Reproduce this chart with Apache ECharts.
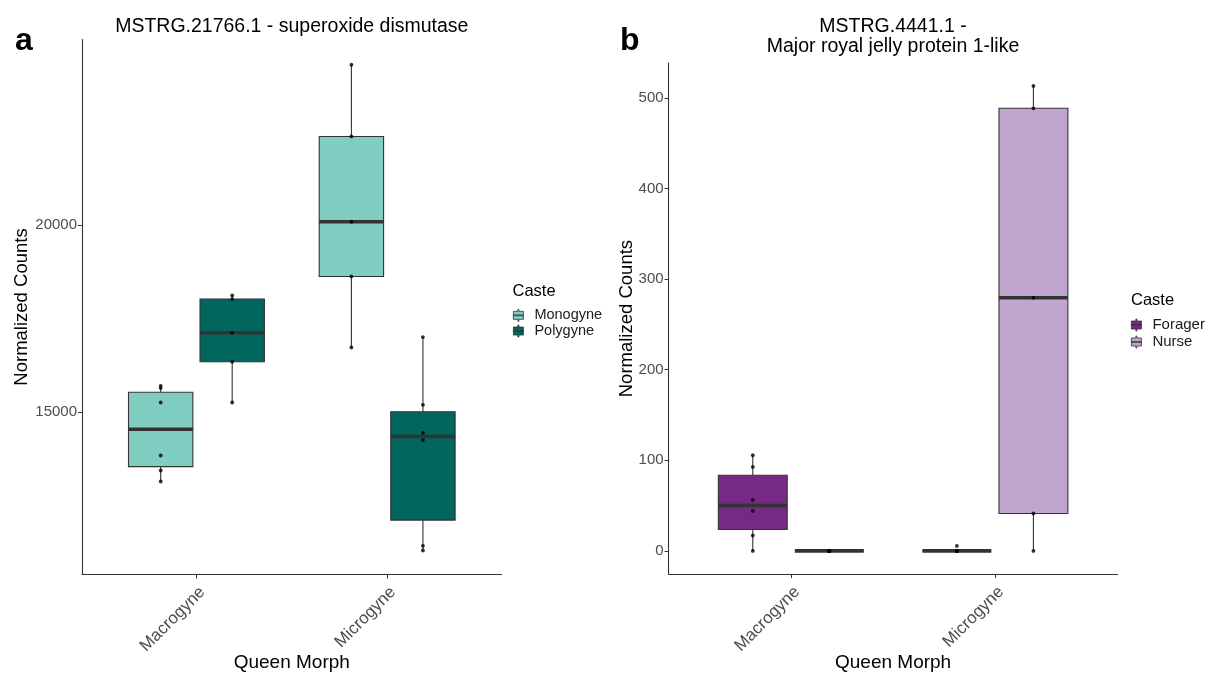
<!DOCTYPE html>
<html><head><meta charset="utf-8">
<script src="https://cdn.jsdelivr.net/npm/echarts@6/dist/echarts.min.js"></script>
<style>html,body{margin:0;padding:0;background:#fff}#c{width:1210px;height:675px}</style>
</head><body><div id="c"></div>
<script>
// ---------------- data ----------------
const categories = ['Macrogyne', 'Microgyne'];

// Panel a : MSTRG.21766.1 - superoxide dismutase
const casteA = ['Monogyne', 'Polygyne'];
// box stats per category: [min, Q1, median, Q3, max]
const boxA_Monogyne = [[13147, 13545, 14541, 15529, 15702], [16724, 18620, 20080, 22357, 24271]];
const boxA_Polygyne = [[15256, 16343, 17117, 18017, 18113], [11305, 12117, 14349, 15008, 17002]];
// individual samples per category
const ptsA_Monogyne = [[15702, 15641, 15256, 13841, 13441, 13147], [24271, 22357, 20080, 18620, 16724]];
const ptsA_Polygyne = [[18113, 18017, 17117, 16343, 15256], [17002, 15195, 14447, 14253, 11431, 11305]];
const ticksA = [15000, 20000];

// Panel b : MSTRG.4441.1 - Major royal jelly protein 1-like
const casteB = ['Forager', 'Nurse'];
const boxB_Forager = [[0, 23.6, 50.1, 83.5, 105.6], [0, 0, 0, 0, 0]];
const boxB_Nurse = [[0, 0, 0, 0, 0], [0, 41.3, 279.5, 488.6, 513.3]];
const ptsB_Forager = [[105.6, 92.7, 56.3, 44.1, 17.0, 0], [5.5, 0, 0, 0, 0]];
const ptsB_Nurse = [[0, 0, 0, 0, 0, 0], [513.3, 488.6, 279.5, 41.3, 0]];
const ticksB = [0, 100, 200, 300, 400, 500];

// ---------------- styling / layout ----------------
const FONT = "'Liberation Sans', Arial, sans-serif";
const DODGE = 0.1875, BOX_W = 0.3375;
const colA = ['#80CDC1', '#01665E'];
const colB = ['#762A83', '#C2A5CF'];
const STROKE = '#333333';
const ICON = 'path://M4.5,0 L5.5,0 L5.5,2 L10,2 L10,10 L5.5,10 L5.5,12 L4.5,12 L4.5,10 L0,10 L0,2 L4.5,2 Z M0,5.6 L10,5.6 L10,6.4 L0,6.4 Z';

function boxData(boxes, side) {
  return boxes.map((b, i) => [i + 1 + side * DODGE].concat(b));
}
function ptData(pts, side) {
  const out = [];
  pts.forEach((arr, i) => arr.forEach(v => out.push([i + 1 + side * DODGE, v])));
  return out;
}
function renderBox(params, api) {
  const x = api.value(0);
  const lo = api.coord([x, api.value(1)]);
  const q1 = api.coord([x, api.value(2)]);
  const md = api.coord([x, api.value(3)]);
  const q3 = api.coord([x, api.value(4)]);
  const hi = api.coord([x, api.value(5)]);
  const w = api.size([BOX_W, 0])[0];
  const cx = lo[0], x0 = cx - w / 2;
  return {
    type: 'group', children: [
      { type: 'line', shape: { x1: cx, y1: hi[1], x2: cx, y2: q3[1] }, style: { stroke: STROKE, lineWidth: 1.1 } },
      { type: 'line', shape: { x1: cx, y1: q1[1], x2: cx, y2: lo[1] }, style: { stroke: STROKE, lineWidth: 1.1 } },
      { type: 'rect', shape: { x: x0, y: q3[1], width: w, height: q1[1] - q3[1] }, style: { fill: api.visual('color'), stroke: STROKE, lineWidth: 1.1 } },
      { type: 'line', shape: { x1: x0, y1: md[1], x2: x0 + w, y2: md[1] }, style: { stroke: STROKE, lineWidth: 3.6 } }
    ]
  };
}
function boxSeries(name, boxes, side, idx, color) {
  return {
    name, type: 'custom', xAxisIndex: idx, yAxisIndex: idx,
    data: boxData(boxes, side), renderItem: renderBox,
    encode: { x: 0, y: [1, 2, 3, 4, 5] },
    itemStyle: { color }, z: 2, silent: true
  };
}
function ptSeries(name, pts, side, idx) {
  return {
    name, type: 'scatter', xAxisIndex: idx, yAxisIndex: idx,
    data: ptData(pts, side), symbol: 'circle', symbolSize: 3.8,
    itemStyle: { color: '#000' }, z: 5, silent: true
  };
}
function xAx(gridIndex) {
  return {
    type: 'value', gridIndex, min: 0.4, max: 2.6,
    axisLine: { show: true, onZero: false, lineStyle: { color: STROKE, width: 1.1 } },
    axisTick: { show: true, customValues: [1, 2], length: 4, lineStyle: { color: STROKE } },
    axisLabel: { customValues: [1, 2], formatter: v => categories[Math.round(v) - 1], rotate: 45, verticalAlign: 'top', fontSize: 17, color: '#4D4D4D', margin: 9, fontFamily: FONT },
    splitLine: { show: false },
    name: 'Queen Morph', nameLocation: 'middle', nameGap: 79, nameMoveOverlap: false,
    nameTextStyle: { fontSize: 19, color: '#000', fontFamily: FONT }
  };
}
function yAx(gridIndex, min, max, ticks, gap) {
  return {
    type: 'value', gridIndex, min, max,
    axisLine: { show: true, onZero: false, lineStyle: { color: STROKE, width: 1.1 } },
    axisTick: { show: true, customValues: ticks, length: 4, lineStyle: { color: STROKE } },
    axisLabel: { customValues: ticks, formatter: v => String(v), fontSize: 15, color: '#4D4D4D', margin: 5, fontFamily: FONT },
    splitLine: { show: false },
    name: 'Normalized Counts', nameLocation: 'middle', nameGap: gap, nameMoveOverlap: false,
    nameTextStyle: { fontSize: 18.5, color: '#000', fontFamily: FONT }
  };
}
function txt(text, x, y, size, opts) {
  return {
    type: 'text', x, y, silent: true,
    style: Object.assign({ text, fontSize: size, fontFamily: FONT, fill: '#000', textAlign: 'center', textVerticalAlign: 'middle' }, opts || {})
  };
}

const chart = echarts.init(document.getElementById('c'), null, { renderer: 'canvas' });
chart.setOption({
  animation: false,
  backgroundColor: '#fff',
  grid: [
    { left: 82, top: 39.5, width: 419.6, height: 535, outerBoundsMode: 'none', containLabel: false },
    { left: 668.6, top: 63, width: 449, height: 511.2, outerBoundsMode: 'none', containLabel: false }
  ],
  xAxis: [xAx(0), xAx(1)],
  yAxis: [yAx(0, 10665, 24945, ticksA, 51), yAx(1, -25.7, 538.6, ticksB, 32)],
  legend: [
    {
      data: casteA, orient: 'vertical', left: 513, top: 307.5, padding: 0,
      itemWidth: 10, itemHeight: 12, itemGap: 0, icon: ICON,
      itemStyle: { borderColor: STROKE, borderWidth: 0.8 },
      textStyle: { fontSize: 14.5, lineHeight: 15.7, color: '#1A1A1A', fontFamily: FONT, padding: [0, 0, 0, 6] },
      selectedMode: false
    },
    {
      data: casteB, orient: 'vertical', left: 1131, top: 316.5, padding: 0,
      itemWidth: 10, itemHeight: 12, itemGap: 0, icon: ICON,
      itemStyle: { borderColor: STROKE, borderWidth: 0.8 },
      textStyle: { fontSize: 15, lineHeight: 17, color: '#1A1A1A', fontFamily: FONT, padding: [0, 0, 0, 6] },
      selectedMode: false
    }
  ],
  graphic: [
    txt('MSTRG.21766.1 - superoxide dismutase', 291.8, 27, 19.5),
    txt('MSTRG.4441.1 -', 893, 27, 19.5),
    txt('Major royal jelly protein 1-like', 893, 47, 19.5),
    txt('a', 15, 41, 32, { textAlign: 'left', fontWeight: 'bold' }),
    txt('b', 620, 41, 32, { textAlign: 'left', fontWeight: 'bold' }),
    txt('Caste', 512.5, 291, 16.5, { textAlign: 'left' }),
    txt('Caste', 1131, 300.5, 16.5, { textAlign: 'left' })
  ],
  series: [
    boxSeries(casteA[0], boxA_Monogyne, -1, 0, colA[0]),
    boxSeries(casteA[1], boxA_Polygyne, 1, 0, colA[1]),
    ptSeries('pts ' + casteA[0], ptsA_Monogyne, -1, 0),
    ptSeries('pts ' + casteA[1], ptsA_Polygyne, 1, 0),
    boxSeries(casteB[0], boxB_Forager, -1, 1, colB[0]),
    boxSeries(casteB[1], boxB_Nurse, 1, 1, colB[1]),
    ptSeries('pts ' + casteB[0], ptsB_Forager, -1, 1),
    ptSeries('pts ' + casteB[1], ptsB_Nurse, 1, 1)
  ]
});
</script>
</body></html>
